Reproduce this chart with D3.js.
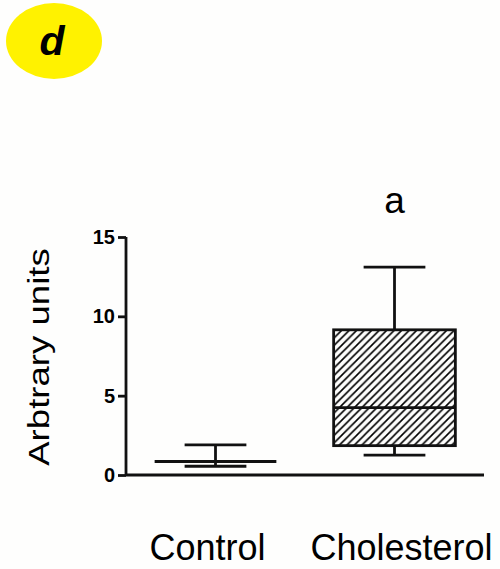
<!DOCTYPE html>
<html>
<head>
<meta charset="utf-8">
<script src="https://cdn.jsdelivr.net/npm/d3@7"></script>
<style>
  html, body { margin: 0; padding: 0; background: #fefefd; }
  svg { display: block; }
  text { font-family: "Liberation Sans", Arial, sans-serif; fill: #000; }
</style>
</head>
<body>
<svg id="chart" width="500" height="569"></svg>
<script>
// Groups and their box-plot summaries (arbitrary units)
const groups     = ["Control", "Cholesterol"];
const whiskerMin = [0.55, 1.25];
const quartile1  = [0.85, 1.85];
const medians    = [0.85, 4.25];
const quartile3  = [0.85, 9.15];
const whiskerMax = [1.9, 13.1];
const hatched    = [false, true];
const signif     = ["", "a"];
const yTicks     = [0, 5, 10, 15];
const labelShift = [-8, 7];

const svg = d3.select("#chart");

// Panel badge
svg.append("ellipse")
  .attr("cx", 54).attr("cy", 41).attr("rx", 48).attr("ry", 38)
  .attr("fill", "#fff200");
svg.append("text")
  .attr("x", 52).attr("y", 55)
  .attr("text-anchor", "middle")
  .style("font-size", "41px").style("font-weight", "bold").style("font-style", "italic")
  .text("d");

// Diagonal hatch fill
const defs = svg.append("defs");
const hs = 7.5;
defs.append("pattern")
  .attr("id", "hatch")
  .attr("patternUnits", "userSpaceOnUse")
  .attr("width", hs).attr("height", hs)
  .append("path")
  .attr("d", `M0,${hs} L${hs},0 M${-hs/4},${hs/4} L${hs/4},${-hs/4} M${hs*3/4},${hs*5/4} L${hs*5/4},${hs*3/4}`)
  .attr("stroke", "#000").attr("stroke-width", 1.6);

const x = d3.scaleBand().domain(groups).range([126, 484]).padding(0);
const y = d3.scaleLinear().domain([0, 15]).range([475, 237]);

const boxW = x.bandwidth() * 0.68;
const capW = x.bandwidth() * 0.345;
const lw = 2.8;

// Y axis
const yAxis = svg.append("g")
  .attr("transform", `translate(${x.range()[0]},0)`)
  .call(d3.axisLeft(y).tickValues(yTicks).tickSize(8).tickPadding(3).tickFormat(d3.format("d")));
yAxis.select(".domain").attr("d", `M0,${y(15)}H0V${y(0)}`).attr("stroke", "#111").attr("stroke-width", lw);
yAxis.selectAll(".tick line").attr("stroke", "#111").attr("stroke-width", lw);
yAxis.selectAll(".tick text")
  .style("font-size", "20px").style("font-weight", "bold")
  .style("font-family", "'Liberation Sans', Arial, sans-serif");

// X axis baseline
svg.append("line")
  .attr("x1", x.range()[0]).attr("x2", x.range()[1])
  .attr("y1", y(0)).attr("y2", y(0))
  .attr("stroke", "#111").attr("stroke-width", lw);

// Boxes and whiskers
const data = groups.map((g, i) => ({
  g, lo: whiskerMin[i], q1: quartile1[i], med: medians[i], q3: quartile3[i], hi: whiskerMax[i],
  hatched: hatched[i], sig: signif[i], shift: labelShift[i]
}));

const box = svg.selectAll("g.box").data(data).join("g").attr("class", "box")
  .attr("transform", d => `translate(${x(d.g) + x.bandwidth() / 2},0)`);

function styled(sel) { return sel.attr("stroke", "#111").attr("stroke-width", lw); }

// whisker stems
styled(box.append("line").attr("x1", 0).attr("x2", 0).attr("y1", d => y(d.hi)).attr("y2", d => y(d.q3)));
styled(box.append("line").attr("x1", 0).attr("x2", 0).attr("y1", d => y(d.q1)).attr("y2", d => y(d.lo)));
// caps
styled(box.append("line").attr("x1", -capW / 2).attr("x2", capW / 2).attr("y1", d => y(d.hi)).attr("y2", d => y(d.hi)));
styled(box.append("line").attr("x1", -capW / 2).attr("x2", capW / 2).attr("y1", d => y(d.lo)).attr("y2", d => y(d.lo)));
// box
styled(box.filter(d => d.q3 > d.q1).append("rect")
  .attr("x", -boxW / 2).attr("width", boxW)
  .attr("y", d => y(d.q3)).attr("height", d => y(d.q1) - y(d.q3))
  .attr("fill", d => d.hatched ? "url(#hatch)" : "none"));
// median
styled(box.append("line").attr("x1", -boxW / 2).attr("x2", boxW / 2).attr("y1", d => y(d.med)).attr("y2", d => y(d.med)));

// significance letter
box.append("text")
  .attr("y", 213).attr("text-anchor", "middle")
  .style("font-size", "37px")
  .text(d => d.sig);

// group labels
svg.selectAll("text.group").data(data).join("text").attr("class", "group")
  .attr("x", d => x(d.g) + x.bandwidth() / 2 + d.shift)
  .attr("y", 560).attr("text-anchor", "middle")
  .style("font-size", "36px")
  .text(d => d.g);

// y axis title
svg.append("text")
  .attr("transform", `translate(49,${(248 + 466) / 2}) rotate(-90) scale(1.22,1)`)
  .attr("text-anchor", "middle")
  .style("font-size", "30px")
  .text("Arbtrary units");
</script>
</body>
</html>
